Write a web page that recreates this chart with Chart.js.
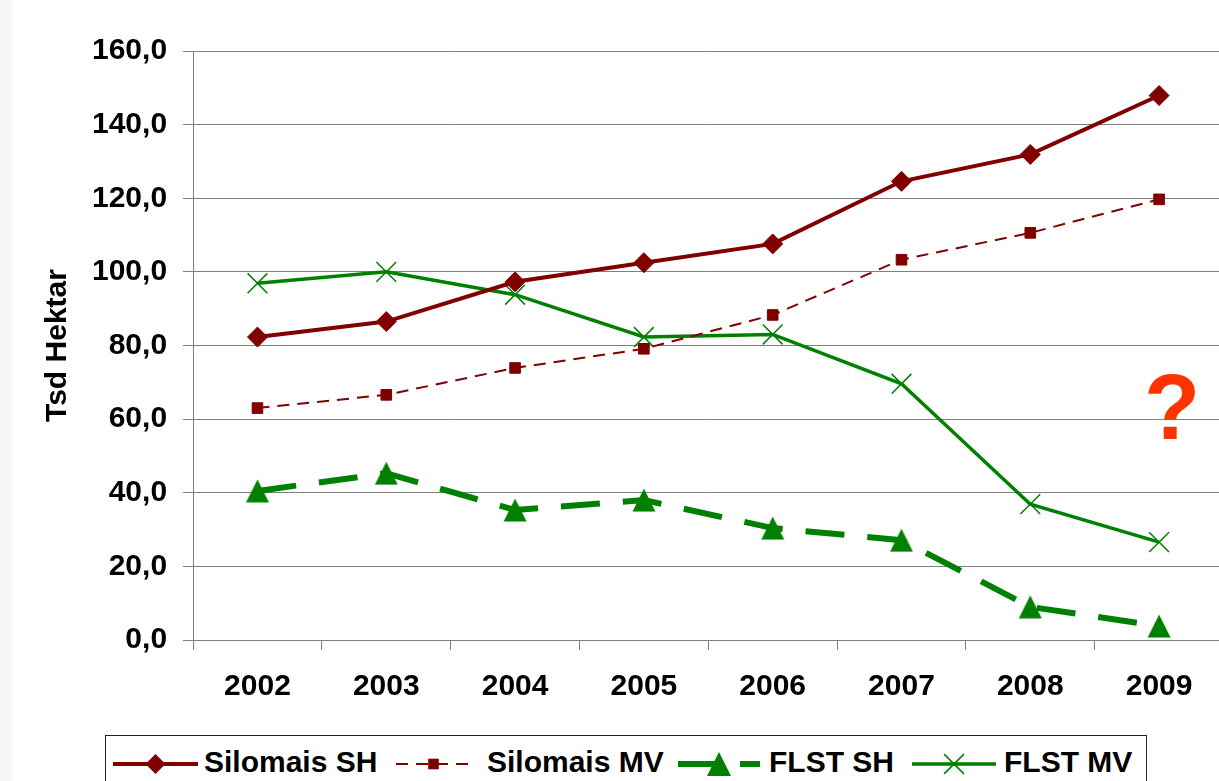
<!DOCTYPE html>
<html>
<head>
<meta charset="utf-8">
<script src="https://cdn.jsdelivr.net/npm/chart.js@4/dist/chart.umd.min.js"></script>
<style>
  html, body { margin: 0; padding: 0; background: #fff; overflow: hidden; }
  #wrap { position: relative; width: 1219px; height: 781px; overflow: hidden; background: #fff; }
  #strip { position: absolute; left: 0; top: 0; width: 12px; height: 781px; background: #f6f6f6; }
  #holder { position: absolute; left: 0; top: 0; width: 1239px; height: 781px; }
  #chart { position: absolute; left: 0; top: 0; width: 1239px; height: 781px; }
  #legend { position: absolute; left: 105px; top: 735px; width: 1042px; height: 70px;
            border: 1px solid #222; box-sizing: border-box; background: #fff; }
  .lg-text { position: absolute; top: 745px; height: 34px; line-height: 34px; white-space: nowrap;
             font: bold 30px "Liberation Sans", Arial, sans-serif; color: #000; }
  .lg-svg { position: absolute; overflow: visible; }
  #question { position: absolute; left: 1122px; top: 361px; width: 100px; text-align: center;
              font: bold 92px/92px "Liberation Sans", Arial, sans-serif; color: #ff3300; }
</style>
</head>
<body>
<div id="wrap">
  <div id="strip"></div>
  <div id="holder"><canvas id="chart" width="1239" height="781"></canvas></div>
  <div id="legend"></div>
  <div id="question">?</div>
</div>
<script>
// Years on the category axis
const years = ['2002', '2003', '2004', '2005', '2006', '2007', '2008', '2009'];

// Area in thousand hectares
const silomaisSH = [82.3, 86.5, 97.3, 102.5, 107.6, 124.6, 131.9, 147.9];
const silomaisMV = [63.0, 66.6, 73.9, 79.1, 88.3, 103.3, 110.6, 119.7];
const flstSH     = [40.5, 45.3, 35.3, 38.0, 30.4, 27.1, 9.0, 3.8];
const flstMV     = [96.9, 100.0, 93.8, 82.3, 83.0, 69.6, 36.9, 26.6];

// Value-axis ticks
const yTickValues = [0, 20, 40, 60, 80, 100, 120, 140, 160];

const seriesNames = ['Silomais SH', 'Silomais MV', 'FLST SH', 'FLST MV'];

const RED = '#800000';
const GREEN = '#008000';
const FONT = '"Liberation Sans", Arial, sans-serif';

// Triangle marker drawn centred on its bounding box
function makeTriangle(w, h, color) {
  const c = document.createElement('canvas');
  c.width = w; c.height = h;
  const g = c.getContext('2d');
  g.fillStyle = color;
  g.beginPath();
  g.moveTo(w / 2, 0.5);
  g.lineTo(w - 0.5, h - 0.5);
  g.lineTo(0.5, h - 0.5);
  g.closePath();
  g.fill();
  return c;
}
const triMarker = makeTriangle(24, 24, GREEN);

const datasets = [
  { label: seriesNames[0], data: silomaisSH, borderColor: RED, backgroundColor: RED,
    borderWidth: 4, borderDash: [], pointStyle: 'rectRot', pointRadius: 10,
    pointBackgroundColor: RED, pointBorderColor: RED, pointBorderWidth: 1 },
  { label: seriesNames[1], data: silomaisMV, borderColor: RED, backgroundColor: RED,
    borderWidth: 2, borderDash: [12, 8], pointStyle: 'rect', pointRadius: 7.5,
    pointBackgroundColor: RED, pointBorderColor: RED, pointBorderWidth: 1 },
  { label: seriesNames[2], data: flstSH, borderColor: GREEN, backgroundColor: GREEN,
    borderWidth: 6, borderDash: [39, 23], pointStyle: triMarker, pointRadius: 12,
    pointBackgroundColor: GREEN, pointBorderColor: GREEN, pointBorderWidth: 0 },
  { label: seriesNames[3], data: flstMV, borderColor: GREEN, backgroundColor: GREEN,
    borderWidth: 3.5, borderDash: [], pointStyle: 'crossRot', pointRadius: 14,
    pointBackgroundColor: GREEN, pointBorderColor: GREEN, pointBorderWidth: 1.5 }
];
datasets.forEach(d => { d.tension = 0; d.fill = false; d.pointHoverRadius = d.pointRadius; });

const GRID = '#7f7f7f';

const chart = new Chart(document.getElementById('chart'), {
  type: 'line',
  data: { labels: years, datasets: datasets },
  options: {
    responsive: false,
    animation: false,
    devicePixelRatio: 1,
    events: [],
    layout: { padding: { left: 30, top: 51, right: 0, bottom: 57 } },
    plugins: { legend: { display: false }, tooltip: { enabled: false } },
    scales: {
      x: {
        offset: true,
        grid: { display: true, drawOnChartArea: false, drawTicks: true, tickLength: 10,
                offset: true, color: GRID, lineWidth: 1 },
        border: { display: true, color: GRID, width: 1 },
        ticks: { color: '#000', padding: 19, maxRotation: 0,
                 font: { family: FONT, size: 30, weight: 'bold' } }
      },
      y: {
        min: 0, max: 160,
        afterBuildTicks: s => { s.ticks = yTickValues.map(v => ({ value: v })); },
        grid: { display: true, drawOnChartArea: true, drawTicks: true, tickLength: 10,
                color: GRID, lineWidth: 1 },
        border: { display: true, color: GRID, width: 1 },
        ticks: { color: '#000', padding: 16,
                 font: { family: FONT, size: 30, weight: 'bold' },
                 callback: v => Number(v).toFixed(1).replace('.', ',') },
        title: { display: true, text: 'Tsd Hektar', color: '#000',
                 padding: { top: 9.5, bottom: 0.5 },
                 font: { family: FONT, size: 30, weight: 'bold' } }
      }
    }
  }
});

// Legend: line sample with marker, followed by the series name
const legendSlots = [
  { x0: 113, x1: 198, tx: 204 },
  { x0: 396, x1: 471, tx: 487 },
  { x0: 678, x1: 760, tx: 769 },
  { x0: 912, x1: 996, tx: 1004 }
];
const wrap = document.getElementById('wrap');
const NS = 'http://www.w3.org/2000/svg';
const legendY = 764;

datasets.forEach((d, i) => {
  const slot = legendSlots[i];
  const w = slot.x1 - slot.x0;
  const svg = document.createElementNS(NS, 'svg');
  svg.setAttribute('class', 'lg-svg');
  svg.setAttribute('width', w);
  svg.setAttribute('height', 40);
  svg.style.left = slot.x0 + 'px';
  svg.style.top = (legendY - 20) + 'px';
  const cy = 20, cx = w / 2;

  const line = document.createElementNS(NS, 'line');
  line.setAttribute('x1', 0); line.setAttribute('x2', w);
  line.setAttribute('y1', cy); line.setAttribute('y2', cy);
  line.setAttribute('stroke', d.borderColor);
  line.setAttribute('stroke-width', d.borderWidth);
  if (d.borderDash.length) line.setAttribute('stroke-dasharray', d.borderDash.join(' '));
  svg.appendChild(line);

  const r = d.pointRadius;
  let mk;
  if (d.pointStyle === 'rectRot') {
    mk = document.createElementNS(NS, 'polygon');
    mk.setAttribute('points', `${cx - r},${cy} ${cx},${cy - r} ${cx + r},${cy} ${cx},${cy + r}`);
    mk.setAttribute('fill', d.pointBackgroundColor);
  } else if (d.pointStyle === 'rect') {
    const s = r * Math.SQRT1_2;
    mk = document.createElementNS(NS, 'rect');
    mk.setAttribute('x', cx - s); mk.setAttribute('y', cy - s);
    mk.setAttribute('width', 2 * s); mk.setAttribute('height', 2 * s);
    mk.setAttribute('fill', d.pointBackgroundColor);
  } else if (d.pointStyle === 'crossRot') {
    const o = r * Math.SQRT1_2;
    mk = document.createElementNS(NS, 'path');
    mk.setAttribute('d', `M${cx - o},${cy - o}L${cx + o},${cy + o}M${cx - o},${cy + o}L${cx + o},${cy - o}`);
    mk.setAttribute('stroke', d.pointBorderColor);
    mk.setAttribute('stroke-width', d.pointBorderWidth);
  } else {
    const tw = d.pointStyle.width, th = d.pointStyle.height;
    mk = document.createElementNS(NS, 'polygon');
    mk.setAttribute('points', `${cx},${cy - th / 2} ${cx + tw / 2},${cy + th / 2} ${cx - tw / 2},${cy + th / 2}`);
    mk.setAttribute('fill', d.pointBackgroundColor);
  }
  svg.appendChild(mk);
  wrap.appendChild(svg);

  const t = document.createElement('div');
  t.className = 'lg-text';
  t.style.left = slot.tx + 'px';
  t.textContent = d.label;
  wrap.appendChild(t);
});
</script>
</body>
</html>
